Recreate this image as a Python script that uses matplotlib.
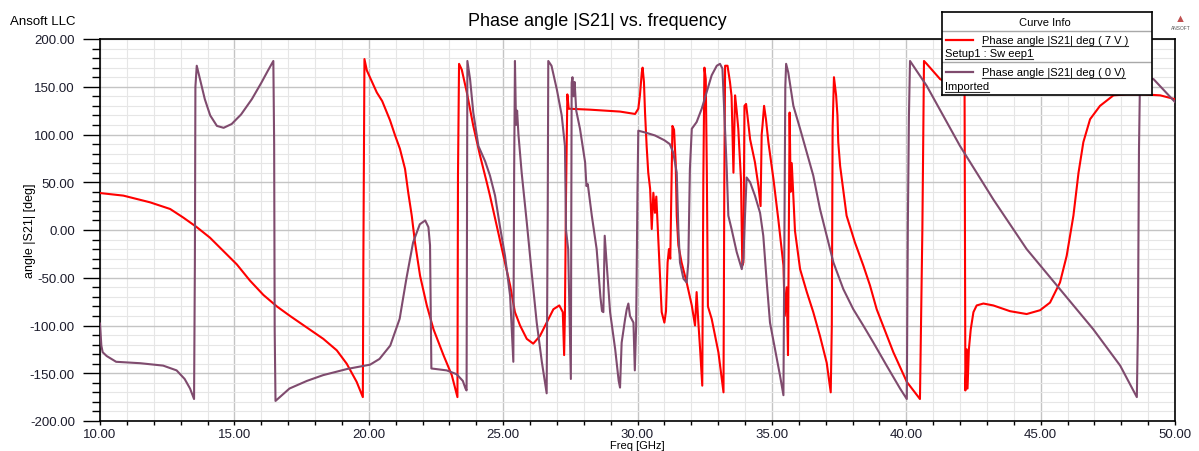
import matplotlib
matplotlib.use('Agg')
import matplotlib.pyplot as plt
from matplotlib.ticker import MultipleLocator, FormatStrFormatter
from matplotlib.lines import Line2D

plt.rcParams['font.family'] = ['Liberation Sans', 'DejaVu Sans']

# Phase angle |S21| at 0 V (imported), GHz / deg
freq_0v = [10.0, 10.05, 10.1, 10.25, 10.6, 11.5, 12.35, 12.85, 13.15, 13.35, 13.5, 13.53, 13.55, 13.6,
           13.72, 13.9, 14.1, 14.35, 14.6, 14.9, 15.25, 15.65, 16.0, 16.25, 16.45, 16.48, 16.5, 16.53,
           17.05, 17.7, 18.3, 19.2, 20.05, 20.4, 20.8, 21.15, 21.4, 21.65, 21.9, 22.1, 22.22, 22.28,
           22.33, 22.9, 23.27, 23.5, 23.6, 23.64, 23.67, 23.77, 23.89, 24.08, 24.33, 24.51, 24.7, 24.88,
           25.07, 25.26, 25.38, 25.41, 25.44, 25.48, 25.52, 25.57, 25.69, 25.88, 26.06, 26.25, 26.44,
           26.62, 26.66, 26.68, 26.8, 27.0, 27.18, 27.3, 27.34, 27.42, 27.52, 27.55, 27.58, 27.62,
           27.66, 27.72, 27.86, 28.05, 28.1, 28.15, 28.3, 28.48, 28.62, 28.68, 28.73, 28.78, 28.85,
           28.98, 29.17, 29.3, 29.35, 29.41, 29.54, 29.6, 29.66, 29.72, 29.85, 29.9, 29.95, 30.0,
           30.03, 30.3, 30.65, 31.0, 31.2, 31.33, 31.46, 31.52, 31.58, 31.71, 31.83, 31.89, 31.95,
           32.02, 32.2, 32.39, 32.57, 32.76, 32.95, 33.07, 33.16, 33.23, 33.32, 33.38, 33.5, 33.69,
           33.88, 33.94, 34.0, 34.06, 34.19, 34.37, 34.56, 34.68, 34.81, 34.93, 35.12, 35.3, 35.43,
           35.47, 35.5, 35.53, 35.61, 35.8, 36.05, 36.3, 36.54, 36.79, 37.04, 37.29, 37.66, 38.03,
           38.4, 38.78, 39.27, 39.77, 40.02, 40.06, 40.1, 40.14, 40.76, 42.0, 43.24, 44.48, 45.72,
           46.96, 47.96, 48.58, 48.62, 48.66, 48.7, 49.2, 50.0]
phase_0v = [-98, -121, -128, -132, -138, -139.5, -142, -147, -156, -166, -177, -37, 150, 172,
            158, 137, 120, 109, 107, 111, 121, 137, 154, 167, 177, 90, -105, -179,
            -166, -158, -152, -145.5, -141, -135, -121, -93, -51, -13, 6, 10, 3, -16,
            -145, -147, -151, -158, -166, -168, 177, 158, 123, 88, 72, 57, 36, 4,
            -27, -69, -138, 60, 177, 110, 125, 100, 60, 8, -44, -97, -138,
            -171, 22, 177, 172, 147, 120, 88, 0, -20, -156, 154, 160, 140,
            155, 125, 106, 71, 46, 48, 15, -20, -70, -85, -86, -6, -34,
            -86, -125, -158, -165, -118, -93, -83, -77, -90, -97, -147, -100, 43,
            104, 102, 99, 94, 90, 81, 60, 1, -34, -51, -55, -34, 64,
            106, 113, 127, 144, 162, 172, 174, 169, 123, 64, 15, 1, -23,
            -41, -30, 15, 55, 50, 36, 18, -6, -55, -97, -125, -152, -173,
            22, 150, 174, 165, 130, 106, 81, 57, 22, -6, -34, -62, -83,
            -100, -118, -142, -166, -177, 8, 120, 177, 151, 88, 32, -20, -62,
            -104, -142, -175, -104, 85, 162, 158, 134]

# Phase angle |S21| at 7 V (Setup1 : Sweep1), GHz / deg
freq_7v = [10.0, 10.87, 11.86, 12.61, 13.1, 13.6, 14.09, 14.59, 15.09, 15.58, 16.08, 16.58, 17.07,
           17.69, 18.31, 18.81, 19.18, 19.55, 19.78, 19.8, 19.84, 19.93, 20.3, 20.5, 20.79, 20.98,
           21.16, 21.35, 21.47, 21.6, 21.72, 21.91, 22.16, 22.41, 22.78, 23.09, 23.3, 23.32, 23.36,
           23.46, 23.65, 23.89, 24.14, 24.39, 24.51, 24.76, 25.01, 25.26, 25.44, 25.63, 25.88, 26.12,
           26.37, 26.62, 26.87, 27.09, 27.22, 27.27, 27.3, 27.34, 27.39, 27.44, 28.23, 29.35, 29.91,
           30.03, 30.09, 30.16, 30.19, 30.24, 30.28, 30.34, 30.4, 30.47, 30.53, 30.59, 30.65, 30.7,
           30.78, 30.84, 30.9, 31.0, 31.06, 31.12, 31.17, 31.22, 31.27, 31.3, 31.36, 31.42, 31.46,
           31.52, 31.64, 31.83, 32.02, 32.14, 32.2, 32.26, 32.33, 32.41, 32.45, 32.49, 32.54, 32.58,
           32.62, 32.76, 33.01, 33.2, 33.23, 33.26, 33.35, 33.44, 33.5, 33.57, 33.63, 33.69, 33.75,
           33.85, 33.9, 33.94, 33.98, 34.04, 34.09, 34.19, 34.37, 34.5, 34.58, 34.62, 34.65, 34.71,
           34.78, 34.87, 35.06, 35.24, 35.43, 35.48, 35.55, 35.6, 35.66, 35.7, 35.74, 35.86, 36.05,
           36.3, 36.54, 36.79, 37.04, 37.19, 37.23, 37.26, 37.31, 37.39, 37.44, 37.47, 37.54, 37.78,
           38.09, 38.4, 38.65, 38.9, 39.52, 40.02, 40.51, 40.6, 40.66, 40.76, 41.26, 41.7, 42.17,
           42.2, 42.25, 42.28, 42.33, 42.4, 42.5, 42.62, 42.87, 43.24, 43.86, 44.48, 44.98, 45.35,
           45.72, 45.97, 46.22, 46.41, 46.59, 46.84, 47.21, 47.71, 48.2, 48.83, 49.45, 50.0]
phase_7v = [38.7, 36, 29, 22, 13, 3, -8, -22, -36, -53, -68, -80, -90,
            -102, -114, -126, -140, -159, -175, -30, 179, 167, 144, 135, 115, 99,
            85, 64, 39, 15, -13, -48, -79, -104, -131, -152, -175, 57, 174,
            168, 144, 109, 78, 50, 36, 4.5, -27, -58, -86, -100, -114, -119,
            -111, -97, -83, -79, -86, -131, -86, 36, 142, 127, 126, 124, 121.5,
            127, 141, 165, 170, 155, 123, 88, 60, 43, 1, 39, 18, 35,
            -13, -51, -86, -97, -85, -34, -20, -30, 57, 109, 105, 71, 15,
            -16, -34, -55, -79, -100, -65, -95, -125, -163, 53, 170, 158, 60,
            -80, -93, -128, -170, 50, 172, 172, 155, 140, 60, 141, 125, 106,
            53, -37, -34, 130, 132, 120, 95, 71, 46, 25, 100, 109, 130,
            116, 92, 53, 11, -37, -90, -60, -131, 123, 40, 70, -1, -41,
            -65, -86, -111, -139, -170, -100, 106, 160, 141, 120, 92, 67, 15,
            -13, -37, -58, -83, -128, -159, -177, 1, 177, 174, 158, 152, 148,
            -168, -125, -166, -125, -104, -86, -79, -77, -79, -85, -88, -84, -76,
            -55, -27, 15, 60, 92, 116, 130, 141, 142, 142, 141, 137]

red = '#FF0000'
purple = '#7F4B6E'
W, H = 1199, 452

fig = plt.figure(figsize=(W / 100, H / 100), dpi=100)
ax = fig.add_axes([100 / W, 1 - 422 / H, 1075 / W, 382 / H])

ax.plot(freq_7v, phase_7v, color=red, lw=1.5, zorder=3)
ax.plot(freq_0v, phase_0v, color=purple, lw=1.5, zorder=4)

ax.set_xlim(10, 50)
ax.set_ylim(-200, 200)
ax.xaxis.set_major_locator(MultipleLocator(5))
ax.xaxis.set_minor_locator(MultipleLocator(1))
ax.yaxis.set_major_locator(MultipleLocator(50))
ax.yaxis.set_minor_locator(MultipleLocator(10))
ax.xaxis.set_major_formatter(FormatStrFormatter('%.2f'))
ax.yaxis.set_major_formatter(FormatStrFormatter('%.2f'))
ax.set_axisbelow(True)
ax.grid(which='major', color='#c4c4c4', lw=1.0)
ax.grid(which='minor', color='#e6e6e6', lw=0.8)

ax.tick_params(axis='y', which='major', length=12, width=1, pad=6, labelsize=9.5, labelcolor='#1c1c2c')
ax.tick_params(axis='y', which='minor', length=6, width=1)
ax.tick_params(axis='x', which='both', length=3, width=1, pad=2, labelsize=9.5, labelcolor='#1c1c2c')
for s in ax.spines.values():
    s.set_linewidth(1.2)
    s.set_color('black')

fig.text(10 / W, 1 - 22 / H, 'Ansoft LLC', fontsize=9.5, va='center', ha='left')
fig.text(597 / W, 1 - 22 / H, 'Phase angle |S21| vs. frequency', fontsize=13, va='center', ha='center')
fig.text(30 / W, 1 - 231 / H, 'angle |S21| [deg]', fontsize=9, rotation=90, va='center', ha='center')
fig.text(637 / W, 1 - 446.5 / H, 'Freq [GHz]', fontsize=8, va='center', ha='center')
fig.text(1181 / W, 1 - 28 / H, 'ANSOFT', fontsize=3.5, color='#555555', va='center', ha='center')
fig.text(1180 / W, 1 - 19 / H, '\u25b2', fontsize=8, color='#c05050', va='center', ha='center')

# Curve Info box, coordinates in pixels relative to the box
lx, ly, lw_, lh = 942, 13, 210, 83
leg = fig.add_axes([lx / W, 1 - (ly + lh) / H, lw_ / W, lh / H], zorder=10)
leg.set_xlim(0, lw_)
leg.set_ylim(lh, 0)
leg.set_xticks([])
leg.set_yticks([])
leg.set_facecolor('white')
for s in leg.spines.values():
    s.set_linewidth(1.2)
    s.set_color('black')

leg.text(103, 10, 'Curve Info', fontsize=8, ha='center', va='center')
leg.plot([0, lw_], [19, 19], color='#a8a8a8', lw=1)
leg.plot([0, lw_], [50, 50], color='#a8a8a8', lw=1)
leg.plot([4, 31], [28, 28], color=red, lw=1.6)
leg.plot([4, 31], [60, 60], color=purple, lw=1.6)
entries = [
    leg.text(40, 28, 'Phase angle |S21| deg ( 7 V )', fontsize=8, ha='left', va='center'),
    leg.text(3, 41, 'Setup1 : Sw eep1', fontsize=8, ha='left', va='center'),
    leg.text(40, 60, 'Phase angle |S21| deg ( 0 V)', fontsize=8, ha='left', va='center'),
    leg.text(3, 74, 'Imported', fontsize=8, ha='left', va='center'),
]

# underline the legend texts
renderer = fig.canvas.get_renderer()
for t in entries:
    bb = t.get_window_extent(renderer=renderer)
    y = bb.y0 - 0.5
    fig.add_artist(Line2D([bb.x0 / W, bb.x1 / W], [y / H, y / H], transform=fig.transFigure,
                          color='#333333', lw=0.8, zorder=11))

fig.savefig('out.png', dpi=100)
